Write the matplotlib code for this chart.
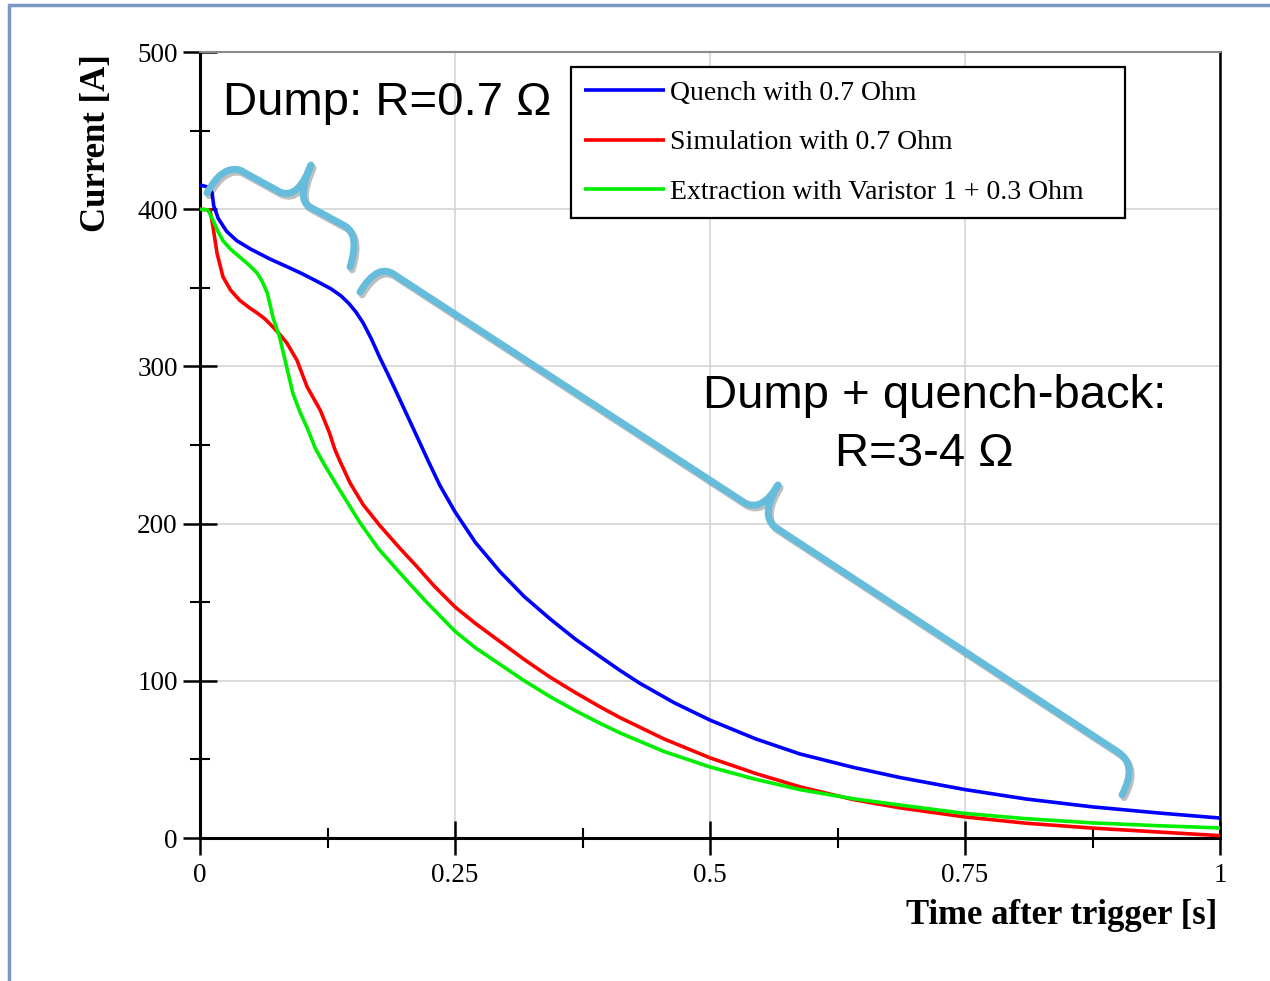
import numpy as np
import matplotlib
matplotlib.use("Agg")
import matplotlib.pyplot as plt
from matplotlib.path import Path
from matplotlib.patches import PathPatch, Rectangle
import matplotlib.patheffects as pe

# quench with 0.7 Ohm (blue)
t_quench = [0, 0.008, 0.0118, 0.0135, 0.018, 0.026, 0.036, 0.05, 0.068, 0.085, 0.1, 0.115,
            0.128, 0.138, 0.146, 0.153, 0.160, 0.168, 0.176, 0.185, 0.193, 0.203, 0.213,
            0.224, 0.235, 0.25, 0.27, 0.294, 0.318, 0.343, 0.368, 0.392, 0.412, 0.431,
            0.465, 0.5, 0.545, 0.588, 0.64, 0.686, 0.75, 0.81, 0.875, 0.94, 1.0]
i_quench = [415.5, 414, 410.5, 402, 394, 386, 380, 374.5, 368.5, 363.5, 359, 354,
            349.5, 345, 340, 334.5, 327.6, 317.5, 306, 294, 283, 269, 255,
            239.5, 224.5, 207.5, 188, 169.5, 153.5, 139.5, 126.5, 115.5, 106.5, 98.5,
            86, 75, 63, 53.5, 45, 38.5, 30.8, 24.8, 19.8, 15.9, 12.7]

# simulation with 0.7 Ohm (red)
t_sim = [0, 0.0098, 0.0127, 0.0167, 0.0225, 0.03, 0.039, 0.048, 0.056, 0.064, 0.0716,
         0.078, 0.085, 0.095, 0.105, 0.118, 0.127, 0.132, 0.137, 0.147, 0.16, 0.176,
         0.195, 0.213, 0.23, 0.25, 0.27, 0.294, 0.318, 0.343, 0.368, 0.392, 0.412,
         0.455, 0.5, 0.545, 0.588, 0.64, 0.686, 0.75, 0.81, 0.875, 0.94, 1.0]
i_sim = [400, 399.5, 389, 372, 357, 348.5, 342, 337.5, 334, 330, 325,
         320.5, 315, 304, 287, 272, 257.6, 247.5, 240, 226, 212, 199,
         185, 172.4, 160, 147, 136.5, 125, 113.5, 102.4, 92.5, 83.5, 76.5,
         63, 51, 41, 32.6, 24.5, 19.2, 13.4, 9.4, 6.3, 3.8, 1.5]

# extraction with varistor (green)
t_ext = [0, 0.0078, 0.0127, 0.0175, 0.0225, 0.03, 0.039, 0.048, 0.056, 0.061, 0.066,
         0.0716, 0.078, 0.085, 0.091, 0.098, 0.105, 0.113, 0.1206, 0.134, 0.157,
         0.175, 0.196, 0.22, 0.25, 0.27, 0.294, 0.318, 0.343, 0.368, 0.392, 0.412,
         0.455, 0.5, 0.545, 0.588, 0.64, 0.686, 0.75, 0.81, 0.875, 0.94, 1.0]
i_ext = [400, 399.5, 393, 386, 380, 374.5, 369.6, 364.5, 359.4, 354, 346.7,
         331, 318.7, 299.6, 283, 271, 261, 248, 239, 224.5, 200.4,
         184, 168.6, 151.5, 131.5, 121, 110.5, 100, 90, 81, 73, 66.8,
         55, 45.2, 37.3, 30.8, 25, 21, 15.6, 12.3, 9.6, 7.8, 6.4]

labels = ["Quench with 0.7 Ohm", "Simulation with 0.7 Ohm",
          "Extraction with Varistor 1 + 0.3 Ohm"]
colors = ["#0000ff", "#ff0000", "#00ee00"]

x_ticks = [0, 0.25, 0.5, 0.75, 1]
x_ticklabels = ["0", "0.25", "0.5", "0.75", "1"]
y_ticks = [0, 100, 200, 300, 400, 500]

# brace annotations, in data units (t, I)
brace1_pts = [(0.0069, 410.3), (0.0216, 428.1), (0.0392, 424.9), (0.0784, 410.9),
              (0.0961, 405.9), (0.1088, 428.1), (0.0941, 405.9), (0.1078, 401.4),
              (0.1422, 389.3), (0.1569, 383.6), (0.1471, 363.2)]
brace2_pts = [(0.1569, 347.3), (0.1745, 366.4), (0.1912, 358.1), (0.5343, 213.1),
              (0.551, 207.4), (0.5667, 224.6), (0.549, 205.5), (0.5637, 197.8),
              (0.9, 54.7), (0.9196, 46.4), (0.9039, 27.4)]
brace_codes = [Path.MOVETO, Path.CURVE3, Path.CURVE3, Path.LINETO,
               Path.CURVE3, Path.CURVE3, Path.CURVE3, Path.CURVE3,
               Path.LINETO, Path.CURVE3, Path.CURVE3]

serif = "Liberation Serif"
sans = "Liberation Sans"

fig = plt.figure(figsize=(12.7, 9.81), dpi=100)
ax = fig.add_axes([200 / 1270, 1 - 838 / 981, 1020 / 1270, 786 / 981])

for t, i, c, lab in zip([t_quench, t_sim, t_ext], [i_quench, i_sim, i_ext], colors, labels):
    ax.plot(t, i, color=c, lw=2.6, label=lab, solid_capstyle="butt", zorder=3)

ax.set_xlim(0, 1)
ax.set_ylim(0, 500)
ax.set_xticks(x_ticks)
ax.set_xticklabels(x_ticklabels)
ax.set_xticks(np.arange(0.125, 1, 0.25), minor=True)
ax.set_yticks(y_ticks)
ax.set_yticks(np.arange(50, 500, 100), minor=True)
ax.grid(True, which="major", color="#d4d4d4", lw=1.2, zorder=0)
ax.set_axisbelow(True)

ax.tick_params(which="major", direction="inout", length=24, width=1.8, labelsize=19.5,
               colors="black")
ax.tick_params(axis="x", which="major", pad=6)
ax.tick_params(axis="y", which="major", pad=4)
ax.tick_params(which="minor", direction="inout", length=14, width=1.5)
for lbl in ax.get_xticklabels() + ax.get_yticklabels():
    lbl.set_fontfamily(serif)

for s in ["left", "bottom"]:
    ax.spines[s].set_linewidth(2.2)
ax.spines["right"].set_linewidth(1.8)
ax.spines["top"].set_color("#8a8a8a")
ax.spines["top"].set_linewidth(1.5)

ax.set_xlabel("Time after trigger [s]", fontfamily=serif, fontweight="bold",
              fontsize=25, ha="right", va="center")
ax.xaxis.set_label_coords(0.997, -0.099)
ax.set_ylabel("Current [A]", fontfamily=serif, fontweight="bold", fontsize=25,
              va="center")
ax.yaxis.set_label_coords(-0.101, 0.884)

leg = ax.legend(loc="upper left", bbox_to_anchor=(0.3637, 0.4, 0.543, 0.581),
                mode="expand", frameon=True, fancybox=False, framealpha=1,
                edgecolor="black", prop={"family": serif, "size": 20},
                handlelength=2.9, handletextpad=0.2, labelspacing=0.87,
                borderpad=0.48, borderaxespad=0)
leg.get_frame().set_linewidth(1.6)
for ln in leg.get_lines():
    ln.set_linewidth(2.6)

for pts in [brace1_pts, brace2_pts]:
    patch = PathPatch(Path(pts, brace_codes), facecolor="none", edgecolor="#66bcdb",
                      lw=5, capstyle="round", joinstyle="round", zorder=4,
                      clip_on=False)
    patch.set_path_effects([pe.SimpleLineShadow(offset=(1.5, -2), alpha=0.25),
                            pe.Normal()])
    ax.add_patch(patch)

ax.text(0.0225, 460, "Dump: R=0.7 \u03a9", fontfamily=sans, fontsize=34,
        ha="left", va="baseline", zorder=5)
ax.text(0.720, 273.5, "Dump + quench-back:", fontfamily=sans, fontsize=34,
        ha="center", va="baseline", zorder=5)
ax.text(0.710, 236.6, "R=3-4 \u03a9", fontfamily=sans, fontsize=34,
        ha="center", va="baseline", zorder=5)

# slide frame
fig.patches.append(Rectangle((9 / 1270, -0.2), 1.5, 1 - 5 / 981 + 0.2,
                             transform=fig.transFigure, facecolor="none",
                             edgecolor="#7b98c4", lw=2.5))

fig.savefig("out.png", dpi=100)
